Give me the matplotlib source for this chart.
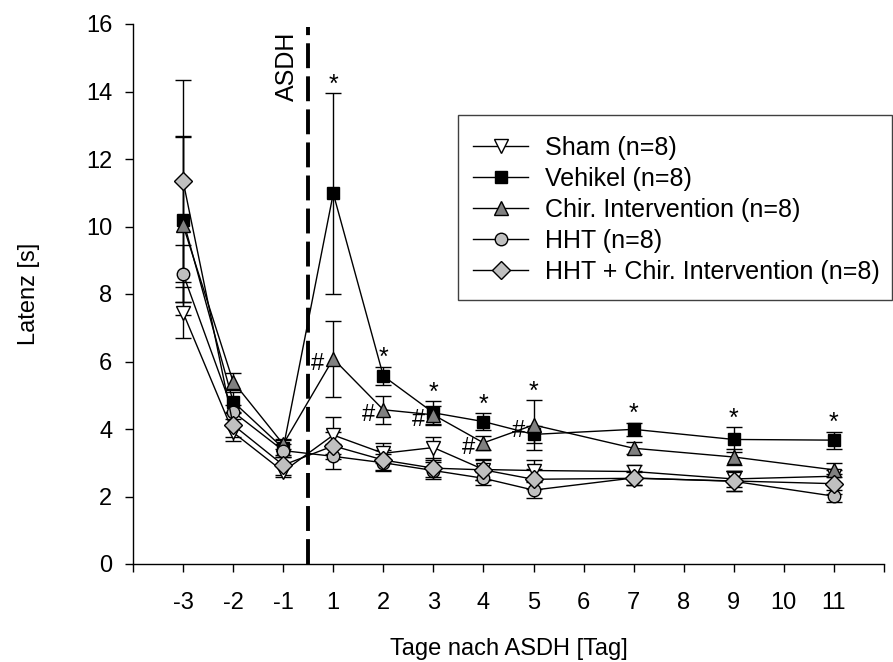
import numpy as np
import matplotlib.pyplot as plt
from matplotlib.patches import Rectangle

plt.rcParams['font.family'] = ['Liberation Sans', 'DejaVu Sans']

# axis categories (evenly spaced, day 0 left out)
tick_days = [-3, -2, -1, 1, 2, 3, 4, 5, 6, 7, 8, 9, 10, 11]
days = [-3, -2, -1, 1, 2, 3, 4, 5, 7, 9, 11]

sham = [7.45, 3.90, 2.74, 3.82, 3.28, 3.45, 2.80, 2.77, 2.74, 2.52, 2.60]
sham_se = [0.75, 0.25, 0.17, 0.55, 0.30, 0.30, 0.30, 0.30, 0.20, 0.25, 0.20]

vehikel = [10.20, 4.81, 3.43, 10.98, 5.57, 4.48, 4.22, 3.84, 3.99, 3.69, 3.67]
vehikel_se = [2.45, 0.30, 0.25, 2.97, 0.28, 0.35, 0.24, 0.26, 0.20, 0.36, 0.25]

chir = [10.04, 5.40, 3.55, 6.08, 4.57, 4.42, 3.59, 4.12, 3.43, 3.17, 2.79]
chir_se = [2.65, 0.25, 0.15, 1.13, 0.42, 0.27, 0.21, 0.74, 0.18, 0.24, 0.20]

hht = [8.60, 4.51, 3.36, 3.19, 3.00, 2.77, 2.54, 2.19, 2.55, 2.45, 2.01]
hht_se = [0.85, 0.20, 0.20, 0.37, 0.25, 0.25, 0.20, 0.24, 0.20, 0.30, 0.17]

hht_chir = [11.35, 4.12, 2.93, 3.50, 3.08, 2.84, 2.79, 2.51, 2.54, 2.46, 2.38]
hht_chir_se = [3.00, 0.35, 0.30, 0.40, 0.30, 0.25, 0.30, 0.30, 0.20, 0.30, 0.30]

labels = ['Sham (n=8)', 'Vehikel (n=8)', 'Chir. Intervention (n=8)',
          'HHT (n=8)', 'HHT + Chir. Intervention (n=8)']

# significance: * Vehikel vs. Sham, # Chir. Intervention vs. Vehikel
star_days = [1, 2, 3, 4, 5, 7, 9, 11]
hash_days = [1, 2, 3, 4, 5]

x = np.array([tick_days.index(d) + 1 for d in days])

W, H = 893, 662
fig = plt.figure(figsize=(W / 100, H / 100), dpi=100)
ax = fig.add_axes([133 / W, 1 - 564 / H, (884 - 133) / W, (564 - 24) / H])

styles = [
    dict(marker='v', mfc='white', ms=10),
    dict(marker='s', mfc='black', ms=9),
    dict(marker='^', mfc='#808080', ms=10),
    dict(marker='o', mfc='#c0c0c0', ms=9),
    dict(marker='D', mfc='#c0c0c0', ms=9),
]
series = [(sham, sham_se), (vehikel, vehikel_se), (chir, chir_se),
          (hht, hht_se), (hht_chir, hht_chir_se)]

handles = []
for (m, se), st, lab in zip(series, styles, labels):
    ax.errorbar(x, m, yerr=se, fmt='none', ecolor='black', elinewidth=1,
                capsize=6, capthick=1, zorder=2)
    h, = ax.plot(x, m, color='black', lw=1, mec='black', mew=1, zorder=3,
                 label=lab, **st)
    handles.append(h)

# ASDH marker between day -1 and day 1
ax.axvline(3.5, ymin=0, ymax=15.9 / 16, color='black', lw=2.8,
           linestyle=(0, (6.4, 2.1)), zorder=1)
ax.text(3.08, 15.78, 'ASDH', rotation=90, ha='center', va='top', fontsize=18)

means = np.array([s[0] for s in series])
errs = np.array([s[1] for s in series])
tops = (means + errs).max(axis=0)
for d in star_days:
    i = days.index(d)
    ax.annotate('*', (x[i], tops[i]), xytext=(0, 1), textcoords='offset points',
                ha='center', va='baseline', fontsize=18)
for d in hash_days:
    i = days.index(d)
    ax.annotate('#', (x[i], chir[i]), xytext=(-11, -4), textcoords='offset points',
                ha='center', va='center', fontsize=17)

ax.set_xlim(0, 15)
ax.set_ylim(0, 16)
ax.set_xticks(range(16))
ax.set_xticklabels([''] + [str(d) for d in tick_days] + [''])
ax.set_yticks(range(0, 17, 2))
ax.tick_params(direction='out', length=6, width=1, labelsize=17)
ax.tick_params(axis='x', pad=14)
ax.tick_params(axis='y', pad=9)
for s in ['left', 'bottom']:
    ax.spines[s].set_linewidth(1)
ax.spines['top'].set_visible(False)
ax.spines['right'].set_visible(False)
ax.set_xlabel('Tage nach ASDH [Tag]', fontsize=17)
ax.set_ylabel('Latenz [s]', fontsize=17)
ax.xaxis.set_label_coords(0.5, -(638 - 564) / 540)
ax.yaxis.set_label_coords(-(133 - 40) / 751, 0.5)

leg = fig.legend(handles=handles, loc='upper left',
                 bbox_to_anchor=(473 / W, 1 - 136 / H),
                 frameon=False, fontsize=18, handlelength=2.2, handletextpad=0.68,
                 labelspacing=0.28, borderaxespad=0, borderpad=0)
fig.patches.append(Rectangle((458 / W, 1 - 300 / H), (892 - 458) / W, (300 - 115) / H,
                             transform=fig.transFigure, fill=False,
                             edgecolor='#404040', lw=1))

fig.savefig('out.png', dpi=100)
